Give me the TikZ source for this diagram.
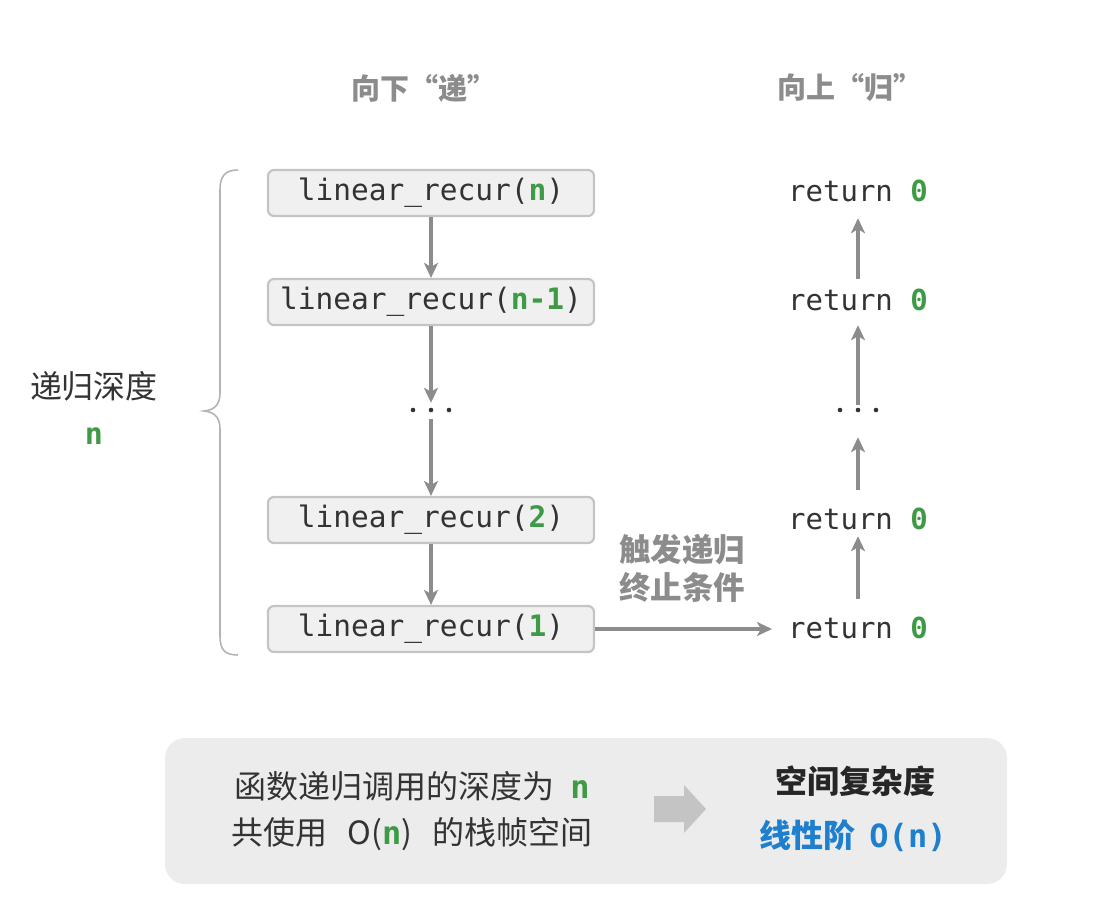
\documentclass[tikz,border=0pt]{standalone}
\usepackage{fontspec}
\setmainfont{Noto Sans CJK SC}
\setmonofont{DejaVu Sans Mono}
\usetikzlibrary{arrows.meta}
\definecolor{codegreen}{HTML}{3E9A45}
\definecolor{linegray}{HTML}{8C8C8C}
\definecolor{boxfill}{HTML}{F0F0F0}
\definecolor{boxline}{HTML}{C4C4C4}
\definecolor{bracegray}{HTML}{B4B4B4}
\definecolor{panelfill}{HTML}{ECECEC}
\definecolor{textdark}{HTML}{333333}
\definecolor{accentblue}{HTML}{1F7FCF}
\newcommand{\gn}[1]{\textcolor{codegreen}{\textbf{#1}}}
\tikzset{
  callbox/.style={draw=boxline, line width=2.2pt, fill=boxfill, rounded corners=6pt,
    minimum width=326pt, minimum height=46pt, inner sep=0pt,
    font=\ttfamily\fontsize{29.5}{32}\selectfont, text=textdark},
  retnode/.style={inner sep=0pt, minimum height=30pt,
    font=\ttfamily\fontsize{29}{32}\selectfont, text=textdark},
  dotsnode/.style={inner sep=0pt, minimum width=50pt, minimum height=30pt},
  flow/.style={draw=linegray, line width=3.2pt,
    -{Stealth[length=15pt,width=14pt,inset=4pt]}},
  headline/.style={font=\fontsize{29}{34}\selectfont\bfseries, text=linegray},
  bodytext/.style={font=\fontsize{32}{38}\selectfont, text=textdark},
}
\newcommand{\dotrow}[1]{%
  \foreach \dx in {-18,0,18} \fill[textdark] ([xshift=\dx pt]#1.center) circle (2.3pt);}
\begin{document}
\begin{tikzpicture}[x=1pt,y=-1pt]
\useasboundingbox (0,0) rectangle (1114,919);

% column headings
\node[headline] (hdown) at (424,88) {向下“递”};
\node[headline] (hup) at (850,88) {向上“归”};

% calls going down
\node[callbox] (c1) at (431,193) {linear\_recur(\gn{n})};
\node[callbox] (c2) at (431,302) {linear\_recur(\gn{n-1})};
\node[dotsnode] (cd) at (431,410) {};
\dotrow{cd}
\node[callbox] (c3) at (431,520) {linear\_recur(\gn{2})};
\node[callbox] (c4) at (431,629) {linear\_recur(\gn{1})};

\draw[flow] (c1.south) -- (c2.north);
\draw[flow] (c2.south) -- ([yshift=-8pt]cd.north);
\draw[flow] ([yshift=6pt]cd.south) -- (c3.north);
\draw[flow] (c3.south) -- (c4.north);

% returns going up
\node[retnode] (r1) at (858,191) {return \gn{0}};
\node[retnode] (r2) at (858,300) {return \gn{0}};
\node[dotsnode] (rd) at (858,410) {};
\dotrow{rd}
\node[retnode] (r3) at (858,519) {return \gn{0}};
\node[retnode] (r4) at (858,628) {return \gn{0}};

\draw[flow, shorten >=12pt, shorten <=6pt] (r2.north) -- (r1.south);
\draw[flow, shorten >=10pt] ([yshift=-10pt]rd.north) -- (r2.south);
\draw[flow, shorten <=14pt] (r3.north) -- ([yshift=-12pt]rd.south);
\draw[flow, shorten >=2pt, shorten <=14pt] (r4.north) -- (r3.south);

% base case
\node[headline, align=center, font=\fontsize{31.5}{38}\selectfont\bfseries] (base) at (682,568) {触发递归\\终止条件};
\coordinate (r4w) at (772,629);
\draw[flow] (c4.east) -- (r4w);

% recursion depth brace
\draw[draw=bracegray, line width=1.6pt]
  (238,170) .. controls (225,170) and (220,176) .. (220,190)
  -- (220,393) .. controls (220,404) and (215,410) .. (204,411)
  .. controls (215,412) and (220,418) .. (220,429)
  -- (220,636) .. controls (220,650) and (225,655) .. (238,655);
\node[bodytext] (depth) at (94,386) {递归深度};
\node[font=\ttfamily\fontsize{30}{32}\selectfont] (depthn) at (94,436) {\gn{n}};

% summary panel
\node[fill=panelfill, rounded corners=20pt, minimum width=842pt, minimum height=146pt,
  inner sep=0pt] (panel) at (586,811) {};
\node[bodytext] (s1) at (412,786) {函数递归调用的深度为\hspace{16pt}{\ttfamily\gn{n}}};
\node[bodytext] (s2) at (412,834) {共使用\hspace{20pt}O({\ttfamily\gn{n}})\hspace{20pt}的栈帧空间};
\fill[boxline] (654,796) -- (684,796) -- (684,785) -- (706,809) -- (684,833) -- (684,822) -- (654,822) -- cycle;
\node[font=\fontsize{32}{38}\selectfont\bfseries, text=black!85] (s3) at (855,781) {空间复杂度};
\node[font=\fontsize{32}{38}\selectfont\bfseries, text=accentblue] (s4) at (853,836) {线性阶\hspace{14pt}{\ttfamily O(n)}};
\end{tikzpicture}
\end{document}
